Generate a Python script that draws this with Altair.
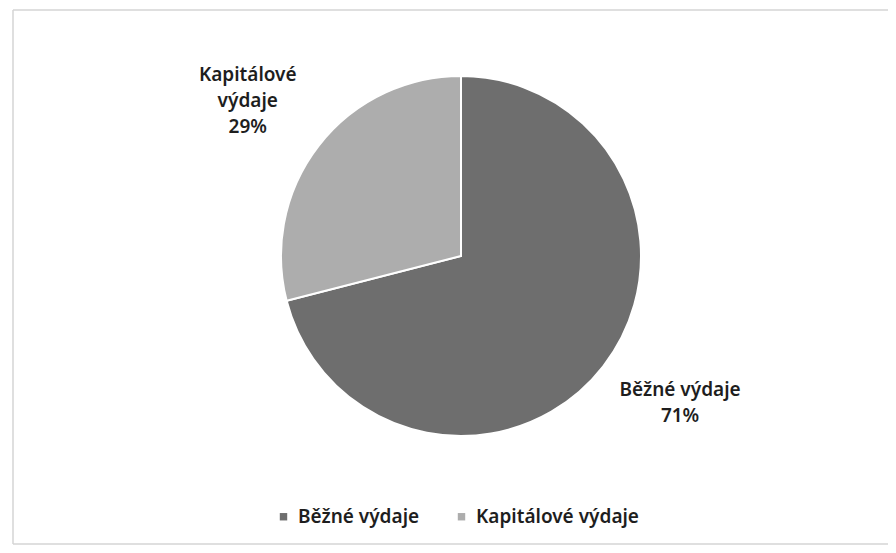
import altair as alt
import pandas as pd

categories = ["Běžné výdaje", "Kapitálové výdaje"]
shares = [71, 29]
colors = ["#6e6e6e", "#adadad"]

df = pd.DataFrame({"kategorie": categories, "podil": shares, "poradi": list(range(len(categories)))})
df["lab_bezne"] = [f"{c}\n{v}%" if c == categories[0] else "" for c, v in zip(categories, shares)]
df["lab_kap"] = [c.replace(" ", "\n") + f"\n{v}%" if c == categories[1] else "" for c, v in zip(categories, shares)]

CX, CY = 453, 248
FONT = "Noto Sans"

base = alt.Chart(df)
theta = alt.Theta("podil:Q", stack=True)
order = alt.Order("poradi:Q")

one = pd.DataFrame({"a": [0]})
bstyle = dict(color="#d4d4d4", strokeWidth=1.5)
b_top = alt.Chart(one).mark_rule(**bstyle).encode(x=alt.value(5), x2=alt.value(880), y=alt.value(2))
b_left = alt.Chart(one).mark_rule(**bstyle).encode(x=alt.value(5), y=alt.value(2), y2=alt.value(536))
b_bot = alt.Chart(one).mark_rule(**bstyle).encode(x=alt.value(5), x2=alt.value(880), y=alt.value(536))

pie = base.mark_arc(radius=180, stroke="white", strokeWidth=2).encode(
    theta=theta,
    order=order,
    color=alt.Color(
        "kategorie:N",
        scale=alt.Scale(domain=categories, range=colors),
        sort=categories,
        legend=alt.Legend(
            title=None,
            orient="none",
            direction="horizontal",
            legendX=266,
            legendY=499,
            symbolType="square",
            symbolSize=55,
            symbolStrokeWidth=0,
            labelFont=FONT,
            labelFontSize=19,
            labelFontWeight=600,
            labelColor="#1e1e1e",
            labelOffset=5,
            labelLimit=400,
            columnPadding=32,
            symbolOffset=0,
        ),
    ),
    x=alt.value(CX),
    y=alt.value(CY),
)

txt_kw = dict(lineBreak="\n", font=FONT, fontSize=19, fontWeight=600, color="#1e1e1e",
              align="center", baseline="middle", lineHeight=26)

lab_b = base.mark_text(radius=257, dx=16, dy=-24, **txt_kw).encode(
    theta=theta, order=order, text="lab_bezne:N", x=alt.value(CX), y=alt.value(CY)
)
lab_k = base.mark_text(radius=280, dx=8, dy=-9, **txt_kw).encode(
    theta=theta, order=order, text="lab_kap:N", x=alt.value(CX), y=alt.value(CY)
)

chart = alt.layer(b_top, b_left, b_bot, pie, lab_b, lab_k).properties(
    width=880,
    height=537,
    padding=0,
    autosize=alt.AutoSizeParams(type="fit", contains="padding"),
    background="white",
).configure_view(stroke=None)

chart.save("out.html", embed_options={"renderer": "svg", "actions": False})
